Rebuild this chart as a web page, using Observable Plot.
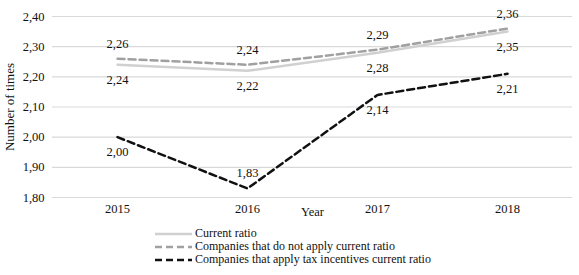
<!DOCTYPE html>
<html>
<head>
<meta charset="utf-8">
<script src="https://cdn.jsdelivr.net/npm/d3@7"></script>
<script src="https://cdn.jsdelivr.net/npm/@observablehq/plot@0.6"></script>
<style>
  body { margin: 0; background: #fff; font-family: "Liberation Serif", serif; }
  #chart { width: 579px; }
  .legend { position: relative; height: 53px; font-size: 12px; color: #111; }
  .legend .row { position: absolute; left: 155px; display: flex; align-items: center; height: 13px; }
  .legend svg { margin-right: 3px; }
</style>
</head>
<body>
<div id="chart"></div>
<script>
const years = ["2015", "2016", "2017", "2018"];
const currentRatio = [2.24, 2.22, 2.28, 2.35];
const notApply = [2.26, 2.24, 2.29, 2.36];
const applyIncentives = [2.00, 1.83, 2.14, 2.21];
const yTicks = [1.80, 1.90, 2.00, 2.10, 2.20, 2.30, 2.40];
const seriesNames = [
  "Current ratio",
  "Companies that do not apply current ratio",
  "Companies that apply tax incentives current ratio"
];
const seriesStyle = [
  {stroke: "#d0d0d0", dash: null, width: 2.5},
  {stroke: "#a0a0a0", dash: "7,4", width: 2.5},
  {stroke: "#111111", dash: "7,4", width: 2.5}
];
// label placement: -1 above, +1 below
const labelSide = [
  [1, 1, 1, 1],
  [-1, -1, -1, -1],
  [1, -1, 1, 1]
];

const allSeries = [currentRatio, notApply, applyIncentives];
const data = allSeries.flatMap((vals, s) =>
  vals.map((v, i) => ({series: s, year: years[i], value: v, side: labelSide[s][i]})));

const fmt = v => v.toFixed(2).replace(".", ",");

const plot = Plot.plot({
  width: 579,
  height: 222,
  marginLeft: 52,
  marginRight: 7,
  marginTop: 16,
  marginBottom: 25,
  style: {fontFamily: "Liberation Serif, serif", fontSize: "12.5px", color: "#111", background: "#fff"},
  x: {type: "point", domain: years, padding: 0.5, label: null},
  y: {domain: [1.80, 2.40], ticks: yTicks, label: null, tickFormat: fmt},
  marks: [
    Plot.gridY(yTicks, {stroke: "#d9d9d9", strokeOpacity: 1, strokeWidth: 1.2}),
    Plot.axisY({ticks: yTicks, tickSize: 0, tickPadding: 8, tickFormat: fmt, label: null, fontSize: 12.5}),
    Plot.axisX({tickSize: 0, tickPadding: 7, label: null, fontSize: 12.5}),
    ...[0, 1, 2].map(s => Plot.line(data.filter(d => d.series === s), {
      x: "year", y: "value",
      stroke: seriesStyle[s].stroke,
      strokeWidth: seriesStyle[s].width,
      strokeDasharray: seriesStyle[s].dash
    })),
    Plot.text(data.filter(d => d.side < 0), {
      x: "year", y: "value", text: d => fmt(d.value),
      dy: -15, fontSize: 12.5, fill: "#111"
    }),
    Plot.text(data.filter(d => d.side > 0), {
      x: "year", y: "value", text: d => fmt(d.value),
      dy: 15, fontSize: 12.5, fill: "#111"
    }),
    Plot.text(["Year"], {frameAnchor: "bottom", dy: 18, fontSize: 12.5, fill: "#111"}),
    Plot.text(["Number of times"], {frameAnchor: "left", textAnchor: "middle", rotate: -90, dx: -43, fontSize: 13, fill: "#111"})
  ]
});
document.getElementById("chart").appendChild(plot);

const legend = document.createElement("div");
legend.className = "legend";
seriesNames.forEach((name, s) => {
  const row = document.createElement("div");
  row.className = "row";
  row.style.top = (5 + s * 13) + "px";
  const st = seriesStyle[s];
  row.innerHTML = `<svg width="37" height="6"><line x1="0" x2="37" y1="3" y2="3" stroke="${st.stroke}" stroke-width="${st.width}" ${st.dash ? `stroke-dasharray="${st.dash}"` : ""}/></svg><span>${name}</span>`;
  legend.appendChild(row);
});
document.getElementById("chart").appendChild(legend);
</script>
</body>
</html>
